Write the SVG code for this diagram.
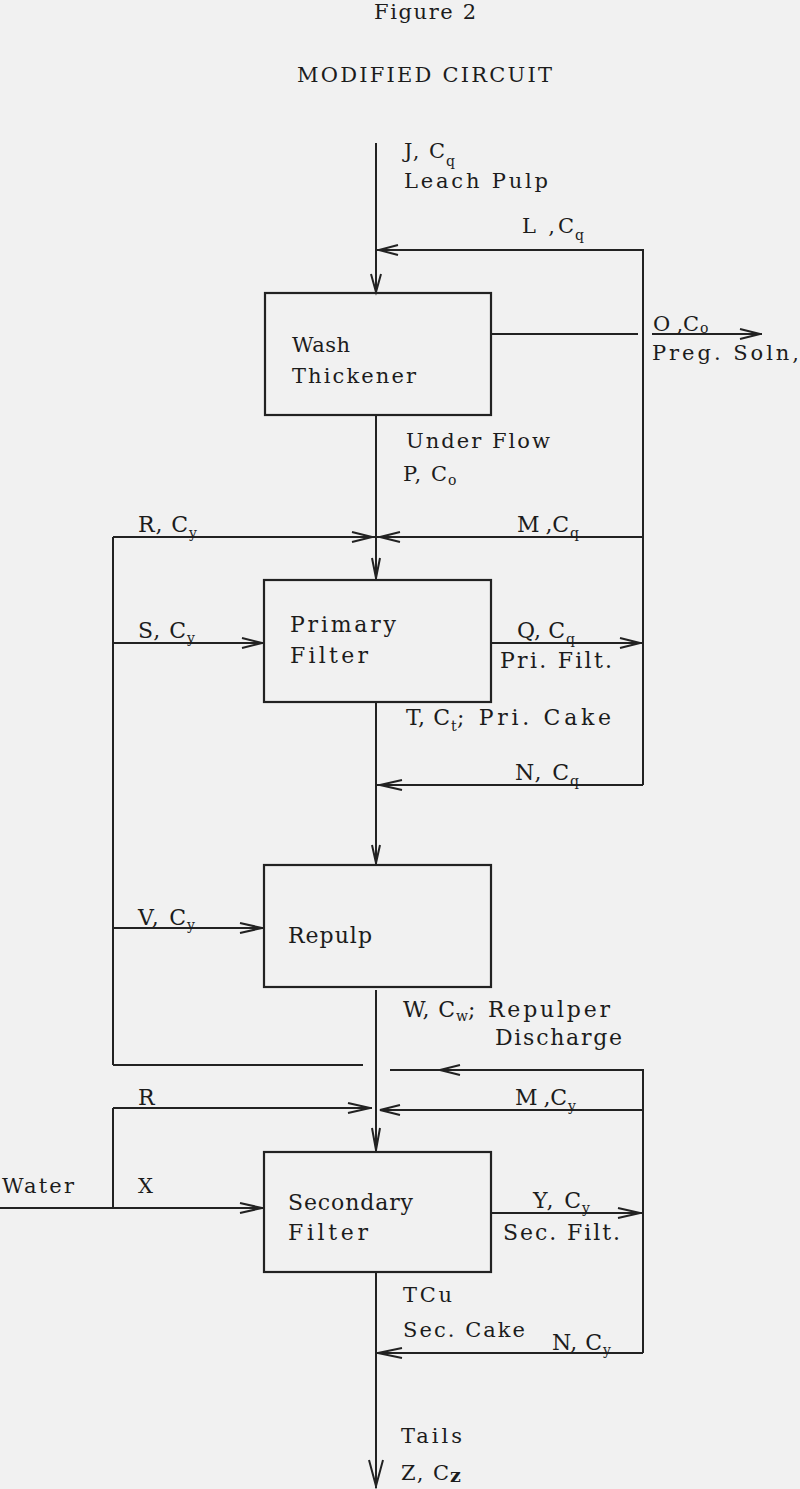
<svg xmlns="http://www.w3.org/2000/svg" width="800" height="1489" viewBox="0 0 800 1489">
<style>
.t{font-family:"DejaVu Serif","Liberation Serif",serif;font-size:21px;fill:#1c1c1c}
.s{font-family:"DejaVu Serif","Liberation Serif",serif;font-size:22px;fill:#1c1c1c}
.sub{font-size:14px}
.ln{stroke:#222;stroke-width:2;fill:none}
.box{stroke:#222;stroke-width:2.2;fill:none}
.ar{stroke:#222;stroke-width:2;fill:none;stroke-linejoin:miter}
</style>
<rect width="800" height="1489" fill="#f1f1f1"/>
<g id="title">
<text class="t" x="374" y="19" textLength="102" font-size="20">Figure 2</text>
<text class="t" x="297" y="82" textLength="255">MODIFIED CIRCUIT</text>
</g>
<g id="connectors">
<path class="ln" d="M376,143V293 M376,415V580 M376,702V865 M376,990V1152 M376,1272V1488"/>
<path class="ln" d="M376,250H643V785 M491,334H638 M652,334H762 M113,537H643 M113,537V1065 M113,643H264 M491,643H643 M376,785H643 M113,928H264 M113,1065H363 M390,1070H643V1353 M113,1108H372 M113,1108V1208 M380,1110H643 M0,1208H264 M491,1213H643 M376,1353H643"/>
<polyline class="ar" points="371,274 376,292 381,274"/>
<polyline class="ar" points="398,245 379,250 398,255"/>
<polyline class="ar" points="740,329 760,334 740,339"/>
<polyline class="ar" points="352,532 372,537 352,542"/>
<polyline class="ar" points="400,532 380,537 400,542"/>
<polyline class="ar" points="372,558 376,578 380,558"/>
<polyline class="ar" points="242,638 262,643 242,648"/>
<polyline class="ar" points="620,638 640,643 620,648"/>
<polyline class="ar" points="402,780 380,785 402,790"/>
<polyline class="ar" points="372,845 376,863 380,845"/>
<polyline class="ar" points="240,923 262,928 240,933"/>
<polyline class="ar" points="460,1065 440,1070 460,1075"/>
<polyline class="ar" points="348,1103 370,1108 348,1113"/>
<polyline class="ar" points="400,1105 380,1110 400,1115"/>
<polyline class="ar" points="372,1128 376,1150 380,1128"/>
<polyline class="ar" points="240,1203 262,1208 240,1213"/>
<polyline class="ar" points="618,1208 640,1213 618,1218"/>
<polyline class="ar" points="402,1348 378,1353 402,1358"/>
<polyline class="ar" points="369,1460 376,1486 383,1460"/>
</g>
<g id="wash-thickener">
<rect class="box" x="265" y="293" width="226" height="122"/>
<text class="t" x="292" y="352" textLength="58">Wash</text>
<text class="t" x="292" y="383" textLength="124">Thickener</text>
</g>
<g id="primary-filter">
<rect class="box" x="264" y="580" width="227" height="122"/>
<text class="s" x="290" y="632" textLength="106">Primary</text>
<text class="s" x="290" y="663" textLength="78">Filter</text>
</g>
<g id="repulp">
<rect class="box" x="264" y="865" width="227" height="122"/>
<text class="s" x="288" y="943" textLength="84">Repulp</text>
</g>
<g id="secondary-filter">
<rect class="box" x="264" y="1152" width="227" height="120"/>
<text class="s" x="288" y="1210" textLength="125">Secondary</text>
<text class="s" x="288" y="1240" textLength="80">Filter</text>
</g>
<g id="labels">
<text class="t"><tspan x="404" y="158" textLength="41">J, C</tspan><tspan class="sub" x="446" y="166">q</tspan></text>
<text class="t" x="404" y="188" textLength="144">Leach Pulp</text>
<text class="t"><tspan x="522" y="233" textLength="52">L ,C</tspan><tspan class="sub" x="575" y="240">q</tspan></text>
<text class="t"><tspan x="653" y="331" textLength="46">O ,C</tspan><tspan class="sub" x="700" y="333">o</tspan></text>
<text class="t" x="652" y="360" textLength="147">Preg. Soln,</text>
<text class="t" x="406" y="448" textLength="144">Under Flow</text>
<text class="t"><tspan x="403" y="481" textLength="44">P, C</tspan><tspan class="sub" x="448" y="485">o</tspan></text>
<text class="s"><tspan x="138" y="532" textLength="50">R, C</tspan><tspan class="sub" x="189" y="538">y</tspan></text>
<text class="s"><tspan x="517" y="532" textLength="52">M ,C</tspan><tspan class="sub" x="570" y="538">q</tspan></text>
<text class="s"><tspan x="138" y="638" textLength="48">S, C</tspan><tspan class="sub" x="187" y="643">y</tspan></text>
<text class="s"><tspan x="517" y="638" textLength="48">Q, C</tspan><tspan class="sub" x="566" y="644">q</tspan></text>
<text class="s" x="500" y="668" textLength="112">Pri. Filt.</text>
<text class="s"><tspan x="406" y="725" textLength="44">T, C</tspan><tspan class="sub" x="451" y="731">t</tspan><tspan x="457" y="725" textLength="154">; Pri. Cake</tspan></text>
<text class="s"><tspan x="515" y="780" textLength="54">N, C</tspan><tspan class="sub" x="570" y="786">q</tspan></text>
<text class="s"><tspan x="138" y="925" textLength="48">V, C</tspan><tspan class="sub" x="187" y="930">y</tspan></text>
<text class="s"><tspan x="403" y="1017" textLength="52">W, C</tspan><tspan class="sub" x="456" y="1021">w</tspan><tspan x="468" y="1017" textLength="142">; Repulper</tspan></text>
<text class="s" x="495" y="1045" textLength="127">Discharge</text>
<text class="s" x="138" y="1105">R</text>
<text class="s"><tspan x="515" y="1105" textLength="52">M ,C</tspan><tspan class="sub" x="568" y="1111">y</tspan></text>
<text class="t" x="2" y="1193" textLength="72">Water</text>
<text class="t" x="138" y="1193">X</text>
<text class="s"><tspan x="533" y="1208" textLength="48">Y, C</tspan><tspan class="sub" x="582" y="1213">y</tspan></text>
<text class="s" x="503" y="1240" textLength="117">Sec. Filt.</text>
<text class="t" x="403" y="1302" textLength="49">TCu</text>
<text class="t" x="403" y="1337" textLength="122">Sec. Cake</text>
<text class="s"><tspan x="552" y="1350" textLength="50">N, C</tspan><tspan class="sub" x="603" y="1355">y</tspan></text>
<text class="t" x="401" y="1443" textLength="61">Tails</text>
<text class="t"><tspan x="401" y="1480" textLength="48">Z, C</tspan><tspan x="450" y="1482" font-size="19" font-weight="bold">z</tspan></text>
</g>
</svg>
